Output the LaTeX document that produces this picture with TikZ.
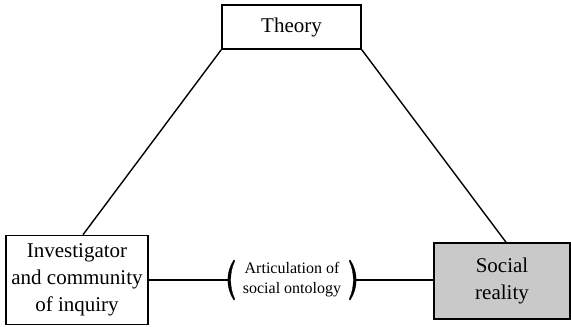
\documentclass[tikz,border=0pt]{standalone}
\usepackage{fontspec}
\setmainfont{Liberation Serif}
\tikzset{
  box/.style={draw, line width=1.6pt, align=center, inner sep=0pt,
    font=\fontsize{21}{27}\selectfont},
  conn/.style={line width=1.4pt},
  paren/.style={fill=black, draw=black, line width=0.3pt},
}
\begin{document}
\begin{tikzpicture}[x=1pt,y=-1pt]
\useasboundingbox (0,0) rectangle (571,327);
\node[box, minimum width=139pt, minimum height=44pt] (theory) at (291.5,27) {Theory};
\node[box, minimum width=142pt, minimum height=89pt] (inv) at (77,280) {Investigator\\and community\\of inquiry};
\node[box, fill=gray!42, minimum width=136pt, minimum height=76pt] (soc) at (502,281) {Social\\reality};
\node[inner sep=0pt, minimum width=128pt, align=center,
  font=\fontsize{16}{20}\selectfont] (art) at (292,280)
  {Articulation of\\social ontology};
% parentheses
\begin{scope}[shift={(art.west)}]
  \path[paren] (6,-20) .. controls (-2,-8) and (-2,8) .. (6,20) -- (7,19)
    .. controls (1.5,8) and (1.5,-8) .. (7,-19) -- cycle;
\end{scope}
\begin{scope}[shift={(art.east)}]
  \path[paren] (-6,-20) .. controls (2,-8) and (2,8) .. (-6,20) -- (-7,19)
    .. controls (-1.5,8) and (-1.5,-8) .. (-7,-19) -- cycle;
\end{scope}
\draw[conn] (theory.south west) -- ([xshift=6pt]inv.north);
\draw[conn] (theory.south east) -- ([xshift=4pt]soc.north);
\draw[conn] (inv.east) -- (art.west);
\draw[conn] (art.east) -- (art.east -| soc.west);
\end{tikzpicture}
\end{document}
